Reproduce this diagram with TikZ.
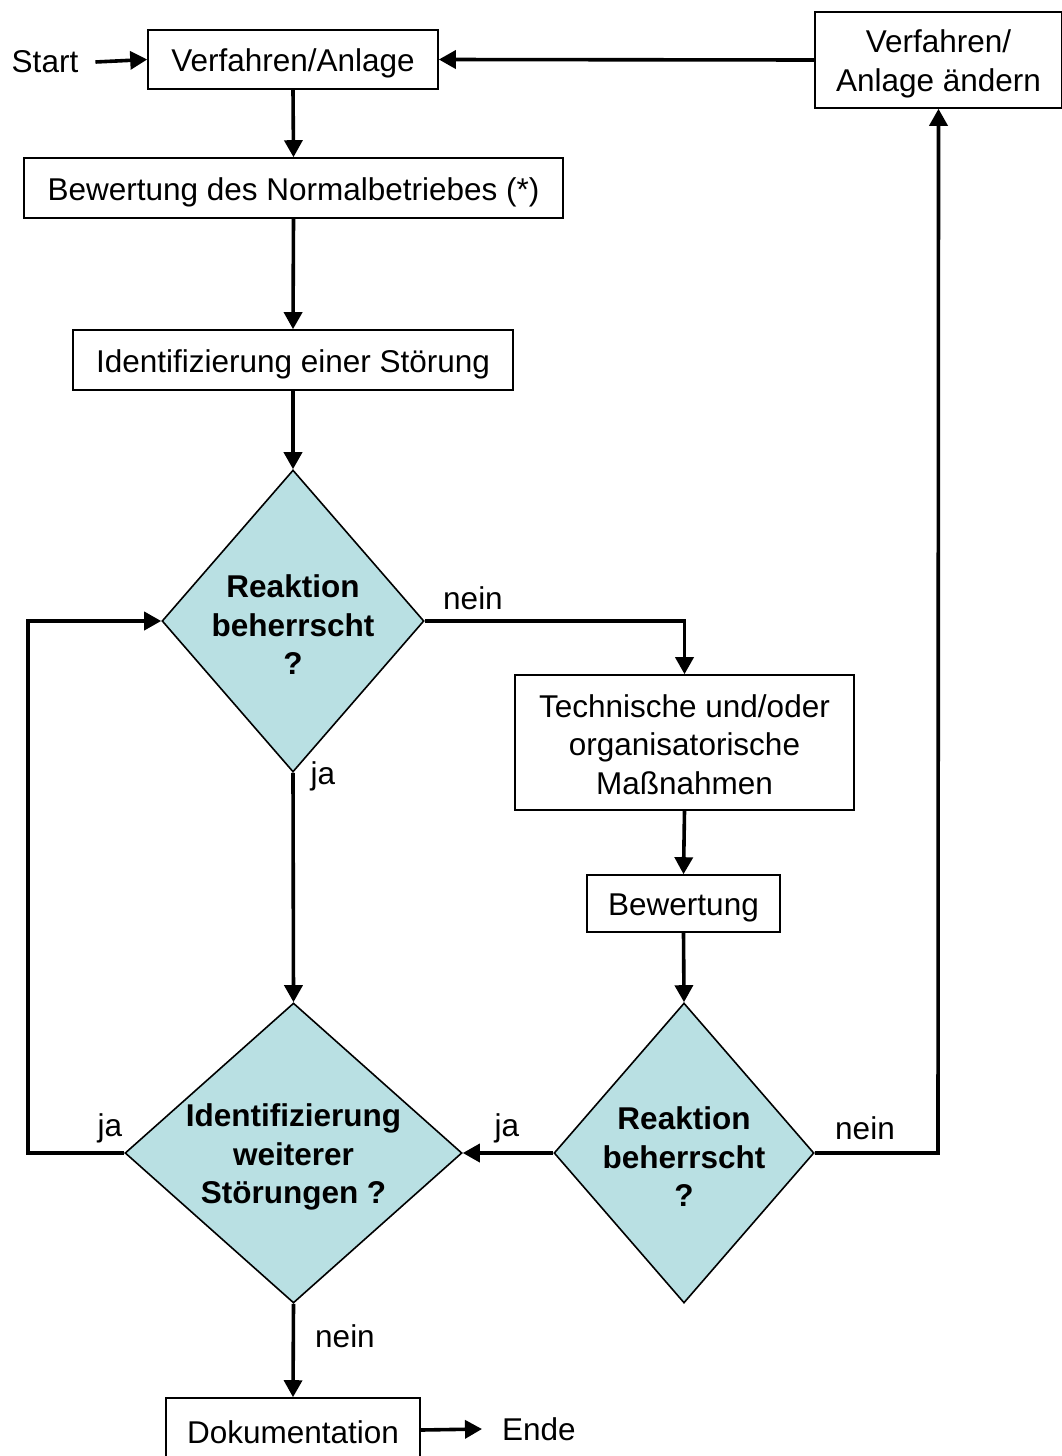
\documentclass[tikz,border=0pt]{standalone}
\usepackage{fontspec}
\setmainfont{Liberation Sans}
\usetikzlibrary{arrows.meta,shapes.geometric}
\definecolor{dfill}{RGB}{185,224,227}
\begin{document}
\begin{tikzpicture}[x=1pt,y=-1pt,
  font=\fontsize{31.5}{38.5}\selectfont,
  box/.style={draw,line width=1.6pt,inner sep=0pt},
  btext/.style={align=center,inner sep=0pt,yshift=-4pt},
  dia/.style={draw,line width=1.6pt,diamond,fill=dfill,inner sep=0pt},
  dtext/.style={font=\fontsize{31.5}{38.5}\selectfont\bfseries,align=center,inner sep=0pt},
  conn/.style={line width=3.6pt,-{Triangle[length=17pt,width=18pt]}},
  lbl/.style={inner sep=0pt}
]
\useasboundingbox (0,0) rectangle (1061,1456);

\node[box,minimum width=290pt,minimum height=59pt] (a) at (293,59.5) {};
\node[btext] (at) at (a.center) {Verfahren/Anlage};
\node[box,minimum width=539pt,minimum height=60pt] (b) at (293.5,188) {};
\node[btext] (bt) at (b.center) {Bewertung des Normalbetriebes (*)};
\node[box,minimum width=440pt,minimum height=60pt] (c) at (293,360) {};
\node[btext] (ct) at (c.center) {Identifizierung einer Störung};
\node[dia,minimum width=262pt,minimum height=302pt] (d1) at (293,621) {};
\node[dtext] (d1t) at (293,625) {Reaktion\\beherrscht\\?};
\node[box,minimum width=339pt,minimum height=135pt] (e) at (684.5,742.5) {};
\node[btext,yshift=2pt] (et) at (e.center) {Technische und/oder\\organisatorische\\Maßnahmen};
\node[box,minimum width=193pt,minimum height=57pt] (f) at (683.5,903.5) {};
\node[btext] (ft) at (f.center) {Bewertung};
\node[dia,minimum width=260pt,minimum height=300pt] (d2) at (684,1153) {};
\node[dtext] (d2t) at (684,1157) {Reaktion\\beherrscht\\?};
\node[dia,minimum width=337pt,minimum height=300pt] (d3) at (293.5,1153) {};
\node[dtext] (d3t) at (293.5,1157) {Identifizierung\\weiterer\\Störungen ?};
\node[box,minimum width=254pt,minimum height=64pt] (g) at (293,1430) {};
\node[btext] (gt) at (293,1428) {Dokumentation};
\node[box,minimum width=247pt,minimum height=96pt] (h) at (938.5,60) {};
\node[btext] (ht) at (h.center) {Verfahren/\\Anlage ändern};

\node[lbl,inner xsep=17pt] (start) at (45,62) {Start};
\node[lbl,inner xsep=20pt,anchor=west] (ende) at (482,1429) {Ende};

\node[lbl] (l1) at (473,598) {nein};
\node[lbl] (l2) at (323,776) {ja};
\node[lbl] (l3) at (507,1128) {ja};
\node[lbl] (l4) at (110,1128) {ja};
\node[lbl] (l5) at (345,1336) {nein};
\node[lbl] (l6) at (865,1128) {nein};

\coordinate (lx) at (28,1153);
\coordinate (rx) at (938,1153);

\draw[conn] (start.east) -- (a.west);
\draw[conn] (a.south) -- (b.north);
\draw[conn] (b.south) -- (c.north);
\draw[conn] (c.south) -- (d1.north);
\draw[conn] (d1.east) -| (e.north);
\draw[conn] (e.south) -- (f.north);
\draw[conn] (f.south) -- (d2.north);
\draw[conn] (d2.west) -- (d3.east);
\draw[conn] (d1.south) -- (d3.north);
\draw[conn] (d3.west) -- (lx) |- (d1.west);
\draw[conn] (d3.south) -- (g.north);
\draw[conn] (g.east) -- (ende.west);
\draw[conn] (d2.east) -- (rx) -- (h.south);
\draw[conn] (h.west) -- (a.east);
\end{tikzpicture}
\end{document}
